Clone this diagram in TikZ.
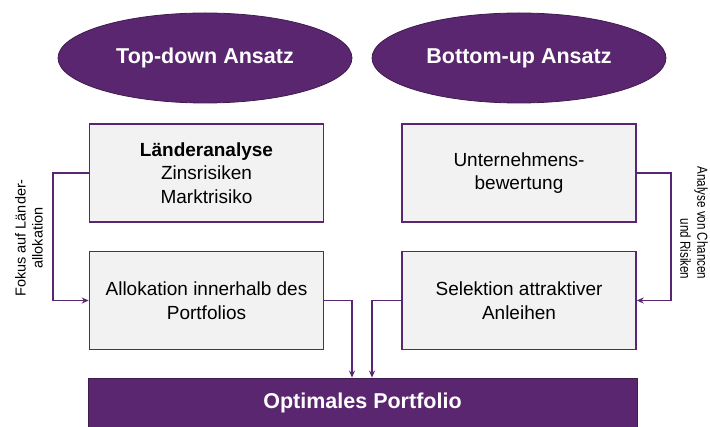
\documentclass[tikz,border=0pt]{standalone}
\usepackage{fontspec}
\setmainfont{Liberation Sans}
\usetikzlibrary{shapes.geometric,arrows.meta}
\definecolor{pur}{HTML}{5B2670}
\definecolor{boxgray}{HTML}{F2F2F2}
\tikzset{
  head/.style={ellipse, fill=pur, draw=pur!70!black, line width=0.8pt, minimum width=294pt, minimum height=90pt, inner sep=0pt, text=white, font=\fontsize{21.5}{25}\selectfont\bfseries},
  graybox/.style={rectangle, fill=boxgray, draw=pur, line width=1.5pt, minimum width=234pt, minimum height=98pt, inner sep=0pt, align=center, font=\fontsize{19}{23.5}\selectfont},
  bar/.style={rectangle, fill=pur, draw=pur!70!black, line width=0.8pt, minimum width=549pt, minimum height=50pt, inner sep=0pt, text=white, font=\fontsize{21.5}{25}\selectfont\bfseries},
  conn/.style={draw=pur, line width=1.3pt, -{Stealth[length=7pt,width=6pt]}},
  side/.style={font=\fontsize{14.5}{17}\selectfont, inner sep=1pt}
}
\begin{document}
\begin{tikzpicture}[x=1pt,y=-1pt]
\useasboundingbox (0,0) rectangle (710,427);
\node[head] (td) at (205,58) {Top-down Ansatz};
\node[head] (bu) at (519,58) {Bottom-up Ansatz};
\node[graybox] (la) at (206.5,173) {\textbf{Länderanalyse}\\Zinsrisiken\\Marktrisiko};
\node[graybox] (al) at (206.5,300.5) {Allokation innerhalb des\\Portfolios};
\node[graybox] (ub) at (519,173) {Unternehmens-\\bewertung};
\node[graybox] (se) at (519,300.5) {Selektion attraktiver\\Anleihen};
\node[bar] (op) at (362.5,403) {Optimales Portfolio};
\coordinate (lx) at (53,0);
\coordinate (rx) at (671,0);
\draw[conn] (la.west) -- (la.west -| lx) -- (al.west -| lx) -- (al.west);
\draw[conn] (ub.east) -- (ub.east -| rx) -- (se.east -| rx) -- (se.east);
\coordinate (bl) at (352,0);
\coordinate (br) at (372,0);
\draw[conn] (al.east) -- (al.east -| bl) -- (op.north -| bl);
\draw[conn] (se.west) -- (se.west -| br) -- (op.north -| br);
\node[side, align=center, rotate=90] (fk) at (29,238) {Fokus auf Länder-\\allokation};
\node[side, align=right, rotate=-90, xscale=0.8] (an) at (694,223) {Analyse von Chancen\\und Risiken};
\end{tikzpicture}
\end{document}
